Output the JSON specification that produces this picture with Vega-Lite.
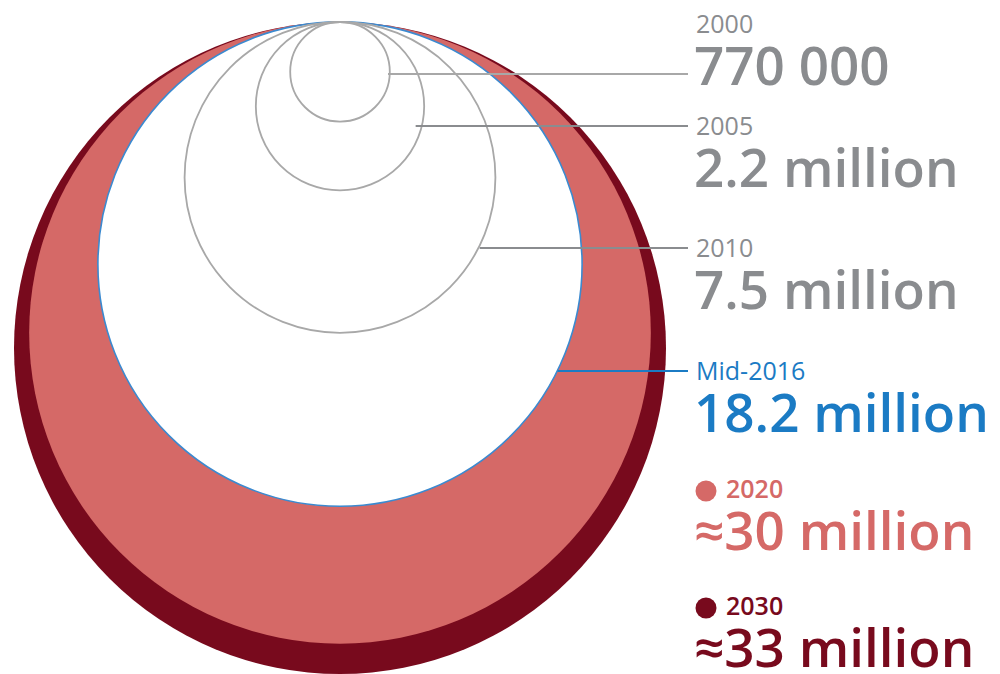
{
  "$schema": "https://vega.github.io/schema/vega-lite/v6.json",
  "width": 1000,
  "height": 674,
  "padding": 0,
  "autosize": {"type": "none"},
  "background": "white",
  "config": {"view": {"stroke": null}},
  "data": {
    "values": [
      {"year": "2000", "yearNum": 2000, "label": "2000", "value": "770 000", "pop": 0.77},
      {"year": "2005", "yearNum": 2005, "label": "2005", "value": "2.2 million", "pop": 2.2},
      {"year": "2010", "yearNum": 2010, "label": "2010", "value": "7.5 million", "pop": 7.5},
      {"year": "Mid-2016", "yearNum": 2016.5, "label": "Mid-2016", "value": "18.2 million", "pop": 18.2},
      {"year": "2020", "yearNum": 2020, "label": "2020", "value": "≈30 million", "pop": 30},
      {"year": "2030", "yearNum": 2030, "label": "2030", "value": "≈33 million", "pop": 33}
    ]
  },
  "resolve": {"scale": {"x": "independent", "y": "independent", "size": "independent"}},
  "layer": [
    {
      "transform": [{"filter": "datum.pop >= 30"}],
      "mark": {"type": "point", "shape": "circle", "filled": true, "opacity": 1, "strokeWidth": 0},
      "encoding": {
        "x": {"value": 340},
        "y": {"field": "pop", "type": "quantitative", "scale": {"type": "sqrt", "domain": [0, 33], "range": [22, 348], "nice": false, "zero": true}, "axis": null},
        "size": {"field": "pop", "type": "quantitative", "scale": {"type": "linear", "domain": [0, 33], "range": [0, 425104], "zero": true}, "legend": null},
        "color": {"field": "year", "type": "nominal", "scale": {"domain": ["2000", "2005", "2010", "Mid-2016", "2020", "2030"], "range": ["#8a8c8f", "#8a8c8f", "#8a8c8f", "#1b7bc4", "#d56967", "#780a1d"]}, "legend": null},
        "order": {"field": "pop", "type": "quantitative", "sort": "descending"}
      }
    },
    {
      "transform": [{"filter": "datum.year == 'Mid-2016'"}],
      "mark": {"type": "point", "shape": "circle", "filled": true, "fill": "white", "stroke": "#3b8ad0", "strokeWidth": 1.6, "opacity": 1},
      "encoding": {
        "x": {"value": 340},
        "y": {"field": "pop", "type": "quantitative", "scale": {"type": "sqrt", "domain": [0, 33], "range": [22, 348], "nice": false, "zero": true}, "axis": null},
        "size": {"field": "pop", "type": "quantitative", "scale": {"type": "linear", "domain": [0, 33], "range": [0, 425104], "zero": true}, "legend": null}
      }
    },
    {
      "transform": [{"filter": "datum.pop < 10"}],
      "mark": {"type": "point", "shape": "circle", "filled": false, "stroke": "#a8a8a8", "strokeWidth": 1.8, "opacity": 1},
      "encoding": {
        "x": {"value": 340},
        "y": {"field": "pop", "type": "quantitative", "scale": {"type": "sqrt", "domain": [0, 33], "range": [22, 348], "nice": false, "zero": true}, "axis": null},
        "size": {"field": "pop", "type": "quantitative", "scale": {"type": "linear", "domain": [0, 33], "range": [0, 425104], "zero": true}, "legend": null}
      }
    },
    {
      "transform": [{"filter": "datum.year == '2000'"}],
      "mark": {"type": "rule", "stroke": "#a8a8a8", "strokeWidth": 2, "yOffset": 41},
      "encoding": {
        "x": {"field": "pop", "type": "quantitative", "scale": {"type": "sqrt", "domain": [0, 33], "range": [340, 654.3], "nice": false, "zero": true}, "axis": null},
        "x2": {"value": 688},
        "y": {"field": "yearNum", "type": "quantitative", "scale": {"type": "linear", "domain": [2000, 2005, 2010, 2016.5, 2020, 2030], "range": [33, 135, 257, 380, 498, 615], "nice": false, "zero": false}, "axis": null}
      }
    },
    {
      "transform": [{"filter": "datum.yearNum > 2000 && datum.yearNum < 2020"}],
      "mark": {"type": "rule", "strokeWidth": 2, "yOffset": -9},
      "encoding": {
        "x": {"field": "pop", "type": "quantitative", "scale": {"type": "sqrt", "domain": [0, 33], "range": [340, 633], "nice": false, "zero": true}, "axis": null},
        "x2": {"value": 688},
        "y": {"field": "yearNum", "type": "quantitative", "scale": {"type": "linear", "domain": [2000, 2005, 2010, 2016.5, 2020, 2030], "range": [33, 135, 257, 380, 498, 615], "nice": false, "zero": false}, "axis": null},
        "color": {"field": "year", "type": "nominal", "legend": null}
      }
    },
    {
      "transform": [{"filter": "datum.yearNum < 2020"}],
      "mark": {"type": "text", "font": "Open Sans", "fontSize": 25, "fontWeight": 400, "align": "left", "baseline": "alphabetic"},
      "encoding": {
        "x": {"value": 696},
        "y": {"field": "yearNum", "type": "quantitative", "scale": {"type": "linear", "domain": [2000, 2005, 2010, 2016.5, 2020, 2030], "range": [33, 135, 257, 380, 498, 615], "nice": false, "zero": false}, "axis": null},
        "text": {"field": "label"},
        "color": {"field": "year", "type": "nominal", "legend": null}
      }
    },
    {
      "transform": [{"filter": "datum.yearNum >= 2020"}],
      "mark": {"type": "text", "font": "Open Sans", "fontSize": 25, "fontWeight": 600, "align": "left", "baseline": "alphabetic"},
      "encoding": {
        "x": {"value": 726},
        "y": {"field": "yearNum", "type": "quantitative", "scale": {"type": "linear", "domain": [2000, 2005, 2010, 2016.5, 2020, 2030], "range": [33, 135, 257, 380, 498, 615], "nice": false, "zero": false}, "axis": null},
        "text": {"field": "label"},
        "color": {"field": "year", "type": "nominal", "legend": null}
      }
    },
    {
      "transform": [{"filter": "datum.yearNum >= 2020"}],
      "mark": {"type": "point", "shape": "circle", "filled": true, "opacity": 1, "size": 440, "yOffset": -7},
      "encoding": {
        "x": {"value": 706},
        "y": {"field": "yearNum", "type": "quantitative", "scale": {"type": "linear", "domain": [2000, 2005, 2010, 2016.5, 2020, 2030], "range": [33, 135, 257, 380, 498, 615], "nice": false, "zero": false}, "axis": null},
        "color": {"field": "year", "type": "nominal", "legend": null}
      }
    },
    {
      "mark": {"type": "text", "font": "Open Sans", "fontSize": 53, "fontWeight": 600, "align": "left", "baseline": "alphabetic", "yOffset": 52},
      "encoding": {
        "x": {"value": 694},
        "y": {"field": "yearNum", "type": "quantitative", "scale": {"type": "linear", "domain": [2000, 2005, 2010, 2016.5, 2020, 2030], "range": [33, 135, 257, 380, 498, 615], "nice": false, "zero": false}, "axis": null},
        "text": {"field": "value"},
        "color": {"field": "year", "type": "nominal", "legend": null}
      }
    }
  ]
}
